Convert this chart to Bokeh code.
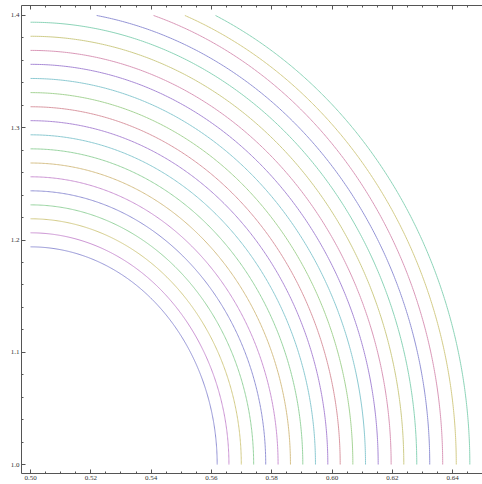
import numpy as np
from bokeh.plotting import figure
from bokeh.models import FixedTicker, LinearAxis, Range1d
from bokeh.embed import file_html
from bokeh.resources import INLINE

# x-intercepts (at y = 1.0) and y-intercepts (at x = 0.5) of each arc
x_ends = [0.5619, 0.5658, 0.5699, 0.5740, 0.5780, 0.5821, 0.5862, 0.5903, 0.5945, 0.5986,
          0.6027, 0.6069, 0.6111, 0.6153, 0.6196, 0.6238, 0.6281, 0.6324, 0.6367, 0.6412, 0.6457]
y_ends = [1.1939, 1.2064, 1.2189, 1.2313, 1.2438, 1.2563, 1.2686, 1.2812, 1.2937, 1.3063,
          1.3187, 1.3313, 1.3439, 1.3565, 1.3689, 1.3815, 1.3940, 1.4056, 1.4191, 1.4292, 1.4410]
colors = ["#9494d6", "#cc94d4", "#d4cc88", "#98d4a0", "#9494d6", "#cc94d4", "#d6c088", "#98d4a0",
          "#8ccad2", "#ae8ad6", "#da98a2", "#a6d496", "#8ccad2", "#a88ad6", "#da98b8", "#cecc88",
          "#8cd4b8", "#9494d6", "#da98b8", "#d4cc88", "#8cd4b8"]
x_center = 0.5
y_center = 1.0
y_clip = 1.4

x_major = [0.50, 0.52, 0.54, 0.56, 0.58, 0.60, 0.62, 0.64]
x_labels = ["0.50", "0.52", "0.54", "0.56", "0.58", "0.60", "0.62", "0.64"]
y_major = [1.0, 1.1, 1.2, 1.3, 1.4]
y_labels = ["1.0", "1.1", "1.2", "1.3", "1.4"]
x_minor = [round(0.495 + 0.005 * i, 3) for i in range(32)]
y_minor = [round(0.98 + 0.02 * i, 2) for i in range(23)]

p = figure(width=482, height=484, output_backend="svg", toolbar_location=None,
           x_range=Range1d(0.497, 0.6499), y_range=Range1d(0.992, 1.4089),
           min_border_left=21, min_border_right=0, min_border_top=5, min_border_bottom=11)
p.outline_line_color = None
p.grid.visible = False
p.background_fill_color = "white"
p.border_fill_color = "white"

xs, ys = [], []
for a_end, b_end in zip(x_ends, y_ends):
    a = a_end - x_center
    b = b_end - y_center
    tmax = np.pi / 2 if b <= (y_clip - y_center) else np.arcsin((y_clip - y_center) / b)
    t = np.linspace(0, tmax, 300)
    xs.append(list(x_center + a * np.cos(t)))
    ys.append(list(y_center + b * np.sin(t)))
p.multi_line(xs=xs, ys=ys, line_color=colors, line_width=1.0)

def style(ax, labels=True):
    ax.axis_line_color = "#555555"
    ax.axis_line_width = 1
    ax.major_tick_line_color = "#555555"
    ax.minor_tick_line_color = "#555555"
    ax.major_tick_in = 4
    ax.major_tick_out = 0
    ax.minor_tick_in = 2
    ax.minor_tick_out = 0
    ax.major_label_text_font = "Liberation Serif"
    ax.major_label_text_font_size = "7px" if labels else "0px"
    ax.major_label_text_color = "#333333"
    ax.major_label_standoff = 2 if labels else 0

xa = p.xaxis[0]
xa.ticker = FixedTicker(ticks=x_major, minor_ticks=x_minor)
xa.major_label_overrides = {v: s for v, s in zip(x_major, x_labels)}
style(xa)
ya = p.yaxis[0]
ya.ticker = FixedTicker(ticks=y_major, minor_ticks=y_minor)
ya.major_label_overrides = {v: s for v, s in zip(y_major, y_labels)}
style(ya)

top = LinearAxis(ticker=FixedTicker(ticks=x_major, minor_ticks=x_minor))
top.major_label_overrides = {v: "" for v in x_major}
style(top, labels=False)
p.add_layout(top, "above")

open("out.html", "w").write(file_html(p, INLINE))
